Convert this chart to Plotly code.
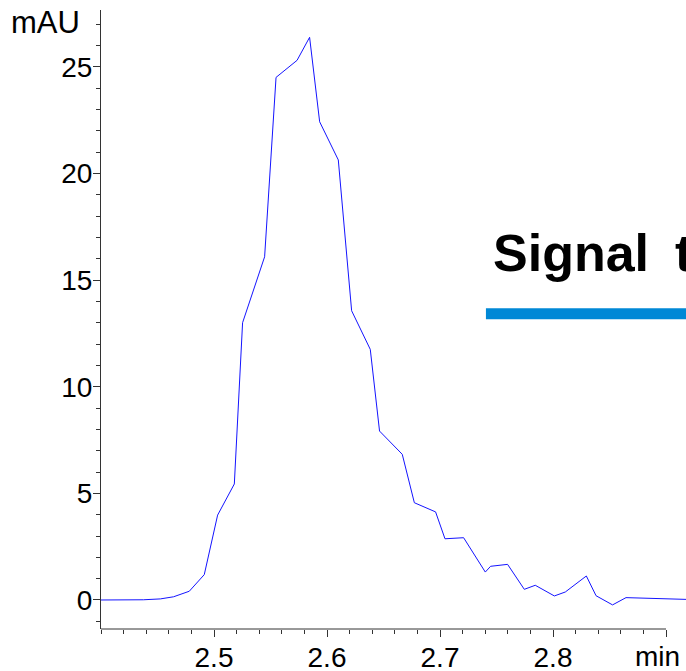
import plotly.graph_objects as go

# Chromatogram data (retention time in min, absorbance in mAU)
time_min = [2.400, 2.4375, 2.4525, 2.4642, 2.4781, 2.4914, 2.5032, 2.5180, 2.5253, 2.5448,
            2.5549, 2.5735, 2.5846, 2.5935, 2.6100, 2.6218, 2.6383, 2.6465, 2.6666, 2.6773,
            2.6961, 2.7044, 2.7209, 2.7401, 2.7448, 2.7598, 2.7746, 2.7843, 2.8012, 2.8109,
            2.8295, 2.8381, 2.8527, 2.8646, 2.9300]
signal_mau = [0, 0.01, 0.05, 0.15, 0.41, 1.19, 3.98, 5.44, 13.0, 16.09,
              24.5, 25.3, 26.38, 22.42, 20.63, 13.56, 11.75, 7.92, 6.83, 4.56,
              4.13, 2.87, 2.92, 1.31, 1.58, 1.67, 0.50, 0.69, 0.19, 0.375,
              1.125, 0.2, -0.23, 0.11, 0.01]

x_tickvals = [2.5, 2.6, 2.7, 2.8, 2.9]
x_ticktext = ["2.5", "2.6", "2.7", "2.8", ""]
y_tickvals = [0, 5, 10, 15, 20, 25]
y_ticktext = ["0", "5", "10", "15", "20", "25"]

x_range = [2.4, 2.9177]
x_axis_end = 2.9
y_range = [-1.36, 27.66]

title_text = "Signal\u2002to noise"
x_unit = "min"
y_unit = "mAU"

FONT = "Liberation Sans, Arial, sans-serif"
AXIS_COLOR = "#333333"

fig = go.Figure()
fig.add_trace(go.Scatter(x=time_min, y=signal_mau, mode="lines",
                         line=dict(color="#1414ff", width=1), showlegend=False))

fig.update_layout(
    width=686, height=671,
    margin=dict(l=101, r=0, t=10, b=42, autoexpand=False),
    paper_bgcolor="white", plot_bgcolor="white",
    font=dict(family=FONT, size=28, color="black"),
    xaxis=dict(range=x_range, showgrid=False, zeroline=False, showline=False,
               automargin=False,
               tickmode="array", tickvals=x_tickvals, ticktext=x_ticktext,
               ticks="outside", ticklen=7, tickwidth=1, tickcolor=AXIS_COLOR,
               tickfont=dict(size=28), ticklabelstandoff=-4,
               minor=dict(tickmode="linear", tick0=2.4, dtick=0.02, ticks="outside",
                          ticklen=4, tickwidth=1, tickcolor=AXIS_COLOR, showgrid=False)),
    yaxis=dict(range=y_range, showgrid=False, zeroline=False, showline=True,
               automargin=False,
               linecolor=AXIS_COLOR, linewidth=1,
               tickmode="array", tickvals=y_tickvals, ticktext=y_ticktext,
               ticks="outside", ticklen=7, tickwidth=1, tickcolor=AXIS_COLOR,
               tickfont=dict(size=28), ticklabelstandoff=-5,
               minor=dict(tickmode="linear", tick0=0, dtick=1, ticks="outside",
                          ticklen=4, tickwidth=1, tickcolor=AXIS_COLOR, showgrid=False)),
)

# x axis line stops at 2.9 min
fig.add_shape(type="line", xref="x", yref="paper", x0=x_range[0], x1=x_axis_end,
              y0=0, y1=0, line=dict(color=AXIS_COLOR, width=1))

# overlay banner
fig.add_shape(type="rect", xref="paper", yref="paper", x0=0.658, x1=1.3,
              y0=0.5003, y1=0.518, line=dict(width=0), fillcolor="#0088D6")

fig.add_annotation(xref="paper", yref="paper", x=0.666, y=0.608, xanchor="left",
                   yanchor="middle", text="<b>" + title_text + "</b>", showarrow=False,
                   font=dict(family=FONT, size=52, color="black"), align="left")

fig.add_annotation(xref="paper", yref="paper", x=-0.032, y=0.9806, xanchor="right",
                   yanchor="middle", text=y_unit, showarrow=False,
                   font=dict(family=FONT, size=31, color="black"))
fig.add_annotation(xref="paper", yref="paper", x=0.9926, y=-0.0444, xanchor="right",
                   yanchor="middle", text=x_unit, showarrow=False,
                   font=dict(family=FONT, size=28, color="black"))

fig.write_html("out.html", config={"displayModeBar": False},
               post_script="document.body.style.margin='0';")
